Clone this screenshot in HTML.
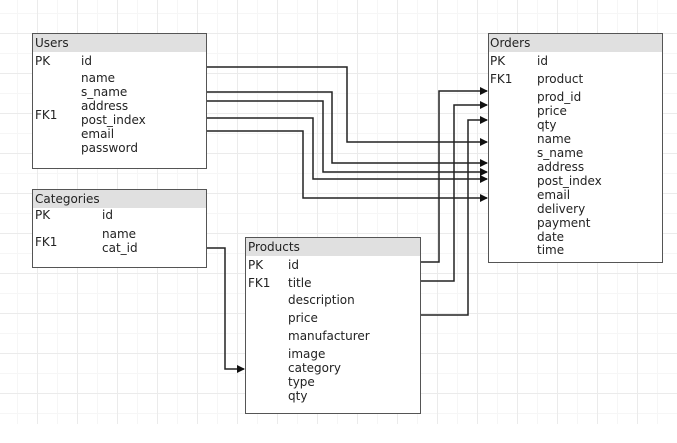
<!DOCTYPE html>
<html><head><meta charset="utf-8"><style>
html,body{margin:0;padding:0;background:#fff;}
body{width:677px;height:443px;position:relative;overflow:hidden;font-family:"DejaVu Sans","Liberation Sans",sans-serif;font-size:12px;color:#222;}
.grid{position:absolute;left:0;top:0;width:677px;height:424px;
background-image:linear-gradient(#ebebeb 1px,transparent 1px),linear-gradient(90deg,#ebebeb 1px,transparent 1px),linear-gradient(#f6f6f6 1px,transparent 1px),linear-gradient(90deg,#f6f6f6 1px,transparent 1px);
background-size:40px 40px,40px 40px,20px 20px,20px 20px;background-position:0 33px,37px 0,0 13px,17px 0;}
.box{position:absolute;border:1.5px solid #555;background:#fff;box-sizing:border-box;}
.hd{position:absolute;left:0;right:0;top:0;height:18px;background:#e0e0e0;}
.t{position:absolute;line-height:14px;white-space:nowrap;}
svg{position:absolute;left:0;top:0;}
</style></head><body>
<div class="grid"></div>
<div class="box" style="left:32px;top:33px;width:175px;height:136px;"><div class="hd"></div></div>
<div class="box" style="left:32px;top:189px;width:175px;height:79px;"><div class="hd"></div></div>
<div class="box" style="left:488px;top:33px;width:175px;height:230px;"><div class="hd"></div></div>
<div class="box" style="left:245px;top:237px;width:176px;height:177px;"><div class="hd"></div></div>

<svg width="677" height="443">
<defs><marker id="a" markerWidth="8" markerHeight="8" refX="7" refY="4" orient="auto" markerUnits="userSpaceOnUse"><path d="M0,0 L8,4 L0,8 z" fill="#111"/></marker></defs>
<g fill="none" stroke="#222" stroke-width="1.5" marker-end="url(#a)">
<polyline points="207,67 347,67 347,142 487,142"/>
<polyline points="207,92 332,92 332,163 487,163"/>
<polyline points="207,101 323,101 323,172 487,172"/>
<polyline points="207,118 313,118 313,179 487,179"/>
<polyline points="207,131 303,131 303,198 487,198"/>
<polyline points="421,262 439,262 439,91 487,91"/>
<polyline points="421,281 454,281 454,105 487,105"/>
<polyline points="421,315 468,315 468,120 487,120"/>
<polyline points="207,248 225,248 225,369 244,369"/>
</g></svg>

<div class="t" style="left:35px;top:36px">Users</div>
<div class="t" style="left:35px;top:54px">PK</div><div class="t" style="left:81px;top:54px">id</div>
<div class="t" style="left:35px;top:108px">FK1</div>
<div class="t" style="left:81px;top:71px">name</div>
<div class="t" style="left:81px;top:85px">s_name</div>
<div class="t" style="left:81px;top:99px">address</div>
<div class="t" style="left:81px;top:113px">post_index</div>
<div class="t" style="left:81px;top:127px">email</div>
<div class="t" style="left:81px;top:141px">password</div>

<div class="t" style="left:35px;top:192px">Categories</div>
<div class="t" style="left:35px;top:208px">PK</div><div class="t" style="left:102px;top:208px">id</div>
<div class="t" style="left:35px;top:235px">FK1</div>
<div class="t" style="left:102px;top:227px">name</div>
<div class="t" style="left:102px;top:241px">cat_id</div>

<div class="t" style="left:490px;top:36px">Orders</div>
<div class="t" style="left:490px;top:54px">PK</div><div class="t" style="left:537px;top:54px">id</div>
<div class="t" style="left:490px;top:72px">FK1</div><div class="t" style="left:537px;top:72px">product</div>
<div class="t" style="left:537px;top:90px">prod_id</div>
<div class="t" style="left:537px;top:104px">price</div>
<div class="t" style="left:537px;top:118px">qty</div>
<div class="t" style="left:537px;top:132px">name</div>
<div class="t" style="left:537px;top:146px">s_name</div>
<div class="t" style="left:537px;top:160px">address</div>
<div class="t" style="left:537px;top:174px">post_index</div>
<div class="t" style="left:537px;top:188px">email</div>
<div class="t" style="left:537px;top:202px">delivery</div>
<div class="t" style="left:537px;top:216px">payment</div>
<div class="t" style="left:537px;top:230px">date</div>
<div class="t" style="left:537px;top:243px">time</div>

<div class="t" style="left:248px;top:240px">Products</div>
<div class="t" style="left:248px;top:258px">PK</div><div class="t" style="left:288px;top:258px">id</div>
<div class="t" style="left:248px;top:276px">FK1</div><div class="t" style="left:288px;top:276px">title</div>
<div class="t" style="left:288px;top:293px">description</div>
<div class="t" style="left:288px;top:311px">price</div>
<div class="t" style="left:288px;top:329px">manufacturer</div>
<div class="t" style="left:288px;top:347px">image</div>
<div class="t" style="left:288px;top:361px">category</div>
<div class="t" style="left:288px;top:375px">type</div>
<div class="t" style="left:288px;top:389px">qty</div>
</body></html>
